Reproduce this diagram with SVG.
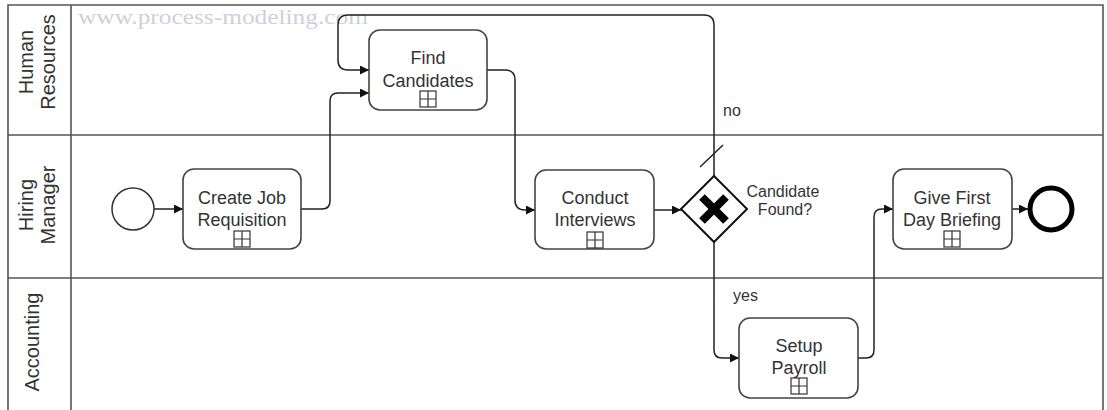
<svg xmlns="http://www.w3.org/2000/svg" width="1107" height="410" viewBox="0 0 1107 410">
<style>
.lane{fill:none;stroke:#555;stroke-width:1.6}
.task{fill:#fff;stroke:#444;stroke-width:1.6}
.lbl{font-family:"Liberation Sans",Arial,sans-serif;font-size:18px;fill:#333;text-anchor:middle}
.lanelbl{font-family:"Liberation Sans",Arial,sans-serif;font-size:20px;fill:#333;text-anchor:middle}
.small{font-family:"Liberation Sans",Arial,sans-serif;font-size:16px;fill:#333}
.mk{fill:#fff;stroke:#333;stroke-width:1.2}
.flow{fill:none;stroke:#222;stroke-width:1.5;marker-end:url(#arr)}
</style>
<defs>
<marker id="arr" viewBox="0 0 10 10" refX="10" refY="5" markerWidth="10" markerHeight="9" markerUnits="userSpaceOnUse" orient="auto">
<path d="M0,0 L10,5 L0,10 z" fill="#111"/>
</marker>
<g id="sub"><rect class="mk" x="-8" y="-8" width="16" height="16"/><path d="M0,-8 V8 M-8,0 H8" stroke="#333" stroke-width="1.2"/></g>
</defs>
<rect width="1107" height="410" fill="#fff"/>
<g id="pool">
<path class="lane" d="M8,412 V5 H1103 V412 M71,5 V412 M8,135 H1103 M8,278 H1103"/>
<text x="78" y="24" font-family="Liberation Serif,serif" font-size="22" fill="#cfcfdc" textLength="290" lengthAdjust="spacingAndGlyphs">www.process-modeling.com</text>
</g>
<g id="lane-hr"><text class="lanelbl" transform="translate(0,62) rotate(-90)"><tspan x="0" y="33">Human</tspan><tspan x="0" y="55">Resources</tspan></text></g>
<g id="lane-hm"><text class="lanelbl" transform="translate(0,205) rotate(-90)"><tspan x="0" y="33">Hiring</tspan><tspan x="0" y="55">Manager</tspan></text></g>
<g id="lane-acc"><text class="lanelbl" transform="translate(0,342) rotate(-90)"><tspan x="0" y="39">Accounting</tspan></text></g>

<g id="connectors">
<path class="flow" d="M154,209 H183"/>
<path class="flow" d="M301,209 H322 Q330,209 330,201 V101 Q330,93 338,93 H369"/>
<path class="flow" d="M714,176 V25 Q714,15 704,15 H348 Q338,15 338,25 V60 Q338,70 348,70 H369"/>
<path d="M700,167 L723,145" stroke="#222" stroke-width="1.5"/>
<path class="flow" d="M487,70 H505 Q515,70 515,80 V200 Q515,210 525,210 H535"/>
<path class="flow" d="M654,210 H681"/>
<path class="flow" d="M714,242 V350 Q714,358 722,358 H739"/>
<path class="flow" d="M858,358 H866 Q874,358 874,350 V217 Q874,209 882,209 H893"/>
<path class="flow" d="M1012,209 H1028"/>
<text class="small" x="723" y="116">no</text>
<text class="small" x="733" y="301">yes</text>
</g>

<g id="start"><circle cx="133" cy="209" r="21" fill="#fff" stroke="#333" stroke-width="1.5"/></g>
<g id="create-job">
<rect class="task" x="183" y="169" width="118" height="80" rx="11"/>
<text class="lbl" x="242" y="204">Create Job</text>
<text class="lbl" x="242" y="226">Requisition</text>
<use href="#sub" x="242" y="239"/>
</g>
<g id="find-candidates">
<rect class="task" x="369" y="30" width="118" height="80" rx="11"/>
<text class="lbl" x="428" y="64">Find</text>
<text class="lbl" x="428" y="87">Candidates</text>
<use href="#sub" x="428" y="99"/>
</g>
<g id="conduct">
<rect class="task" x="535" y="170" width="119" height="79" rx="11"/>
<text class="lbl" x="595" y="204">Conduct</text>
<text class="lbl" x="595" y="226">Interviews</text>
<use href="#sub" x="595" y="240"/>
</g>
<g id="gateway">
<path d="M714,176 L747,209 L714,242 L681,209 z" fill="#fff" stroke="#111" stroke-width="2"/>
<path d="M702,197 L726,221 M726,197 L702,221" stroke="#000" stroke-width="8"/>
<text class="small" x="783" y="197" text-anchor="middle">Candidate</text>
<text class="small" x="785" y="215" text-anchor="middle">Found?</text>
</g>
<g id="setup-payroll">
<rect class="task" x="739" y="318" width="119" height="80" rx="11"/>
<text class="lbl" x="799" y="352">Setup</text>
<text class="lbl" x="799" y="374">Payroll</text>
<use href="#sub" x="799" y="386"/>
</g>
<g id="give-first">
<rect class="task" x="893" y="169" width="119" height="80" rx="11"/>
<text class="lbl" x="952" y="204">Give First</text>
<text class="lbl" x="952" y="226">Day Briefing</text>
<use href="#sub" x="952" y="239"/>
</g>
<g id="end"><circle cx="1051" cy="209" r="21" fill="#fff" stroke="#000" stroke-width="5"/></g>
</svg>
